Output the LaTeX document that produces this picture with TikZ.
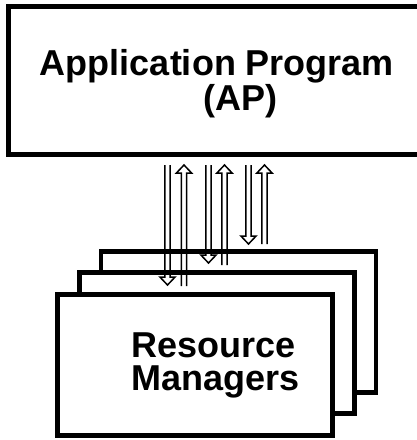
\documentclass[tikz,border=0pt]{standalone}
\usepackage{fontspec}
\setmainfont{Liberation Sans}
\usetikzlibrary{calc}

\begin{document}
\begin{tikzpicture}[x=1pt, y=-1pt,
    box/.style={draw, line width=4.6pt, fill=white, inner sep=0pt,
        minimum width=275pt, minimum height=141pt},
    lbl/.style={font=\fontsize{36}{33}\selectfont\bfseries, align=left, inner sep=0pt},
    link/.style={line width=1.5pt, line join=miter, to path={
        ($(\tikztostart)+(-2.6,0)$) -- ($(\tikztotarget)+(-2.6,#1)$)
        -- ($(\tikztotarget)+(-7.6,#1)$) -- (\tikztotarget)
        -- ($(\tikztotarget)+(7.6,#1)$) -- ($(\tikztotarget)+(2.6,#1)$)
        -- ($(\tikztostart)+(2.6,0)$)}}]
        \useasboundingbox (0,0) rectangle (417,440);
        \clip (0,0) rectangle (417,440);

        % application program, runs off the right edge
        \node[box, minimum width=416pt, minimum height=148pt] at (216.7,80.5)(ap){};
        \node[lbl] at (217,84)(aplbl){Application Program\\\hspace*{164pt}(AP)};

        % stack of resource managers
        \node[box] at (238.5,322)(rm3){};
        \node[box] at (216.8,343)(rm2){};
        \node[box] at (195.2,364.8)(rm1){};
        \node[lbl] at (215.5,365.5)(rmlbl){Resource\\Managers};

        \coordinate (d1a) at (167.5,165); \coordinate (d1b) at (167.5,285);
        \coordinate (u1a) at (184,286);   \coordinate (u1b) at (184,165);
        \coordinate (d2a) at (208.5,165); \coordinate (d2b) at (208.5,263);
        \coordinate (u2a) at (224.5,265); \coordinate (u2b) at (224.5,165);
        \coordinate (d3a) at (248.5,165); \coordinate (d3b) at (248.5,244);
        \coordinate (u3a) at (264.5,244); \coordinate (u3b) at (264.5,165);

        \draw[link=-8] (d1a) to (d1b);
        \draw[link=8] (u1a) to (u1b);
        \draw[link=-8] (d2a) to (d2b);
        \draw[link=8] (u2a) to (u2b);
        \draw[link=-8] (d3a) to (d3b);
        \draw[link=8] (u3a) to (u3b);
    \end{tikzpicture}
\end{document}
